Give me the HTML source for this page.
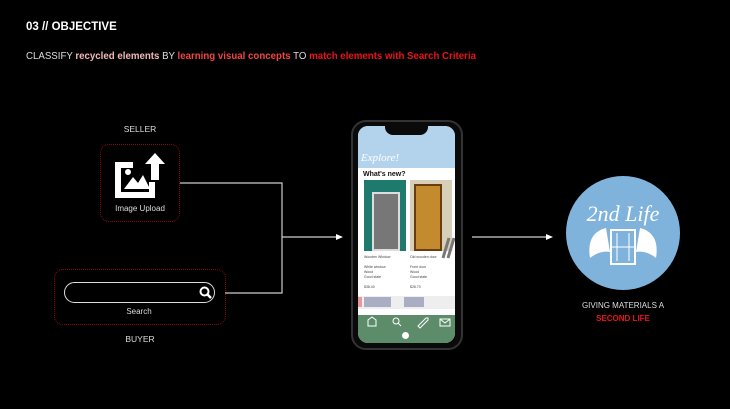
<!DOCTYPE html>
<html><head><style>
body{margin:0;width:730px;height:409px;background:#000;overflow:hidden;position:relative;font-family:"Liberation Sans",sans-serif;color:#fff}
.a{position:absolute}
</style></head><body>
<div class="a" style="left:26px;top:21px;font-size:11.5px;font-weight:bold">03 // OBJECTIVE</div>
<div class="a" style="left:26px;top:51px;font-size:9.7px;color:#ddd;white-space:nowrap">CLASSIFY <b style="color:#f2b8b8">recycled elements</b> BY <b style="color:#f04545">learning visual concepts</b> TO <b style="color:#e8141c">match elements with Search Criteria</b></div>

<div class="a" style="left:100px;top:124px;width:80px;text-align:center;font-size:8.5px;color:#ddd">SELLER</div>
<div class="a" style="left:100px;top:144px;width:78px;height:76px;border:1px dotted #8a0a0a;border-radius:9px"></div>
<svg class="a" style="left:110px;top:150px" width="62" height="50" viewBox="0 0 62 50">
<path d="M5 12 h18 v6 h-12 v24 h28 v-10 h6 v16 h-40 z" fill="#fff"/>
<path d="M14 39 l9-12 5 6 5-8 7 14z" fill="#fff"/>
<circle cx="18" cy="22" r="3" fill="#fff"/>
<path d="M41 30 v-16 h-6 l10-11 10 11 h-6 v16z" fill="#fff"/>
</svg>
<div class="a" style="left:100px;top:204px;width:80px;text-align:center;font-size:8px;color:#ddd">Image Upload</div>

<div class="a" style="left:54px;top:269px;width:170px;height:54px;border:1px dotted #8a0a0a;border-radius:9px"></div>
<div class="a" style="left:64px;top:282px;width:149px;height:19px;border:1.5px solid #ddd;border-radius:11px"></div>
<svg class="a" style="left:198px;top:285px" width="16" height="16"><circle cx="6.5" cy="6.5" r="4" stroke="#fff" stroke-width="2" fill="none"/><path d="M9.5 9.5 L13 13" stroke="#fff" stroke-width="2.5"/></svg>
<div class="a" style="left:54px;top:307px;width:170px;text-align:center;font-size:8px;color:#ddd">Search</div>
<div class="a" style="left:100px;top:334px;width:80px;text-align:center;font-size:8.5px;color:#ddd">BUYER</div>

<svg class="a" style="left:0;top:0" width="730" height="409">
<path d="M180 183 H282 V293 H225 M282 237 H336" stroke="#ccc" stroke-width="1.2" fill="none"/>
<path d="M336 234 L343 237 L336 240z" fill="#fff"/>
<path d="M472 237 H546" stroke="#ccc" stroke-width="1.2"/>
<path d="M546 234 L553 237 L546 240z" fill="#fff"/>
<circle cx="623" cy="233" r="57" fill="#7fb3dc"/>
<text x="623" y="221" text-anchor="middle" font-family="Liberation Serif,serif" font-style="italic" font-size="22" fill="#fff">2nd Life</text>
<path d="M606 228 q-20 5 -16 30 q10 -8 20 -6z M640 228 q20 5 16 30 q-10 -8 -20 -6z" fill="#fff"/>
<rect x="611" y="230" width="24" height="34" fill="none" stroke="#fff" stroke-width="2"/>
<path d="M617 233 v28 M629 233 v28 M611 247 h24" stroke="#fff"/>
</svg>
<div class="a" style="left:563px;top:301px;width:120px;text-align:center;font-size:8px;color:#ddd">GIVING MATERIALS A</div>
<div class="a" style="left:563px;top:314px;width:120px;text-align:center;font-size:8px;font-weight:bold;color:#e8141c">SECOND LIFE</div>

<div class="a" style="left:351px;top:120px;width:108px;height:226px;border:2px solid #333;border-radius:15px;background:#0a0a0a"></div>
<div class="a" style="left:358px;top:126px;width:97px;height:217px;border-radius:10px;overflow:hidden;background:#fff">
 <div class="a" style="left:0;top:0;width:97px;height:42px;background:#b3d3ec"></div>
 <div class="a" style="left:27px;top:0;width:43px;height:9px;background:#0a0a0a;border-radius:0 0 8px 8px"></div>
 <div class="a" style="left:3px;top:26px;font-family:'Liberation Serif',serif;font-style:italic;font-size:11px;color:#fff">Explore!</div>
 <div class="a" style="left:5px;top:45px;font-size:7px;font-weight:bold;color:#111">What's new?</div>
 <div class="a" style="left:6px;top:54px;width:42px;height:71px;background:#1f7a6e"></div>
 <div class="a" style="left:14px;top:66px;width:24px;height:55px;border:2px solid #ddd;background:#777"></div>
 <div class="a" style="left:52px;top:54px;width:42px;height:71px;background:#d8cfb8"></div>
 <div class="a" style="left:56px;top:58px;width:24px;height:63px;background:#c48a2e;border:2px solid #6a3d10"></div>
 <svg class="a" style="left:83px;top:110px" width="14" height="24"><path d="M2 22 L8 2 M7 22 L13 2" stroke="#777" stroke-width="3"/></svg>
 <div class="a" style="left:6px;top:129px;width:40px;height:40px;font-size:3.5px;color:#444;line-height:5px">Wooden Window<br><br>White window<br>Wood<br>Good state<br><br>$38.40</div>
 <div class="a" style="left:52px;top:129px;width:40px;height:40px;font-size:3.5px;color:#444;line-height:5px">Old wooden door<br><br>Front door<br>Wood<br>Good state<br><br>$28.70</div>
 <div class="a" style="left:0;top:170px;width:97px;height:13px;background:#eee"></div>
 <div class="a" style="left:6px;top:171px;width:27px;height:10px;background:#a9aec4"></div>
 <div class="a" style="left:0;top:171px;width:4px;height:10px;background:#e89a9a"></div>
 <div class="a" style="left:46px;top:171px;width:20px;height:10px;background:#a9aec4"></div>
 <div class="a" style="left:0;top:189px;width:97px;height:28px;background:#5d8c6a"></div>
 <svg class="a" style="left:0;top:189px" width="97" height="14">
  <path d="M10 11 v-6 l4-3 4 3 v6z" stroke="#fff" fill="none"/>
  <circle cx="38" cy="6" r="3" stroke="#fff" fill="none"/><path d="M40 8 l3 3" stroke="#fff"/>
  <path d="M60 11 l8-8 h2 v2 l-8 8z" stroke="#fff" fill="none"/>
  <rect x="82" y="4" width="10" height="7" stroke="#fff" fill="none"/><path d="M82 4 l5 4 5-4" stroke="#fff" fill="none"/>
 </svg>
 <div class="a" style="left:44px;top:206px;width:7px;height:7px;border-radius:50%;background:#fff"></div>
</div>
</body></html>
